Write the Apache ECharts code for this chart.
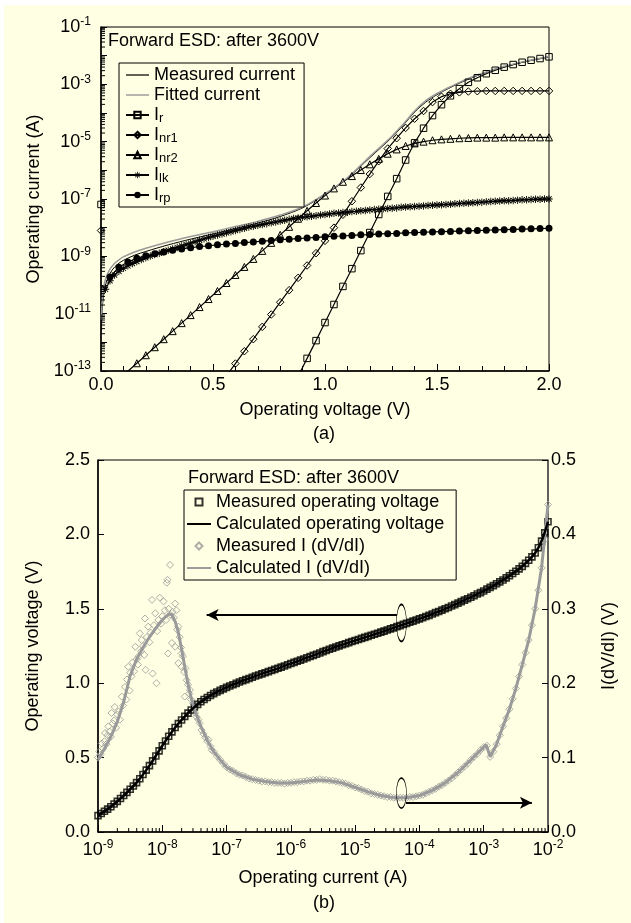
<!DOCTYPE html>
<html>
<head>
<meta charset="utf-8">
<script src="https://cdn.jsdelivr.net/npm/echarts@6/dist/echarts.min.js"></script>
<style>
  html, body { margin: 0; padding: 0; background: #fff; }
  #paper { position: absolute; left: 4px; top: 5px; width: 627px; height: 918px; background: #ffffe3; }
  #chart { position: absolute; left: 0; top: 0; width: 631px; height: 923px; }
</style>
</head>
<body>
<div id="paper"></div>
<div id="chart"></div>
<script>
// ---------- (a) current components vs voltage, values are log10(I) ----------
const voltage = [0, 0.04, 0.08, 0.12, 0.16, 0.2, 0.24, 0.28, 0.32, 0.36, 0.4, 0.44, 0.48, 0.52, 0.56, 0.6, 0.64, 0.68, 0.72, 0.76,
  0.8, 0.84, 0.88, 0.92, 0.96, 1, 1.04, 1.08, 1.12, 1.16, 1.2, 1.24, 1.28, 1.32, 1.36, 1.4, 1.44, 1.48, 1.52, 1.56,
  1.6, 1.64, 1.68, 1.72, 1.76, 1.8, 1.84, 1.88, 1.92, 1.96, 2];

const voltageFine = [0.02, 0.04, 0.06, 0.08, 0.1, 0.12, 0.14, 0.16, 0.18, 0.2, 0.22, 0.24, 0.26, 0.28, 0.3, 0.32, 0.34, 0.36, 0.38, 0.4,
  0.42, 0.44, 0.46, 0.48, 0.5, 0.52, 0.54, 0.56, 0.58, 0.6, 0.62, 0.64, 0.66, 0.68, 0.7, 0.72, 0.74, 0.76, 0.78, 0.8,
  0.82, 0.84, 0.86, 0.88, 0.9, 0.92, 0.94, 0.96, 0.98, 1, 1.02, 1.04, 1.06, 1.08, 1.1, 1.12, 1.14, 1.16, 1.18, 1.2,
  1.22, 1.24, 1.26, 1.28, 1.3, 1.32, 1.34, 1.36, 1.38, 1.4, 1.42, 1.44, 1.46, 1.48, 1.5, 1.52, 1.54, 1.56, 1.58, 1.6,
  1.62, 1.64, 1.66, 1.68, 1.7, 1.72, 1.74, 1.76, 1.78, 1.8, 1.82, 1.84, 1.86, 1.88, 1.9, 1.92, 1.94, 1.96, 1.98, 2];

const irLog = [-7.19, null, null, null, null, null, null, null, null, null, null, null, null, null, null, null, null, null, null, null,
  null, null, -13.19, -12.56, -11.94, -11.31, -10.68, -10.05, -9.43, -8.80, -8.17, -7.54, -6.91, -6.29, -5.64, -5.04, -4.53, -4.09, -3.71, -3.40,
  -3.15, -2.93, -2.77, -2.63, -2.51, -2.40, -2.31, -2.23, -2.16, -2.10, -2.04];

const inr1Log = [-8.10, null, null, null, null, null, null, null, null, null, null, null, null, null, -13.17, -12.74, -12.31, -11.89, -11.46, -11.03,
  -10.60, -10.18, -9.75, -9.32, -8.89, -8.46, -8.00, -7.55, -7.08, -6.60, -6.13, -5.68, -5.24, -4.88, -4.52, -4.20, -3.93, -3.62, -3.43, -3.33,
  -3.28, -3.25, -3.24, -3.23, -3.23, -3.23, -3.23, -3.23, -3.23, -3.23, -3.23];

const inr2Log = [null, null, -13.29, -13.01, -12.73, -12.45, -12.17, -11.89, -11.61, -11.33, -11.05, -10.77, -10.49, -10.21, -9.93, -9.65, -9.37, -9.09, -8.81, -8.53,
  -8.25, -7.97, -7.69, -7.41, -7.14, -6.88, -6.63, -6.40, -6.20, -5.99, -5.79, -5.60, -5.42, -5.27, -5.15, -5.06, -5.00, -4.95, -4.92, -4.90,
  -4.88, -4.87, -4.86, -4.86, -4.86, -4.85, -4.85, -4.85, -4.85, -4.85, -4.85];

const irpLog = [null, -9.72, -9.38, -9.20, -9.07, -8.98, -8.91, -8.85, -8.79, -8.74, -8.70, -8.66, -8.63, -8.60, -8.57, -8.55, -8.52, -8.50, -8.47, -8.45,
  -8.42, -8.40, -8.38, -8.36, -8.34, -8.32, -8.30, -8.29, -8.27, -8.25, -8.24, -8.22, -8.21, -8.20, -8.18, -8.17, -8.16, -8.15, -8.14, -8.13,
  -8.12, -8.11, -8.10, -8.09, -8.08, -8.07, -8.06, -8.05, -8.04, -8.03, -8.02];

const ilkLog = [-10.15, -9.85, -9.65, -9.52, -9.42, -9.33, -9.25, -9.18, -9.11, -9.05, -8.99, -8.94, -8.89, -8.84, -8.79, -8.74, -8.69, -8.64, -8.59, -8.54,
  -8.49, -8.44, -8.39, -8.34, -8.30, -8.26, -8.22, -8.18, -8.14, -8.10, -8.06, -8.02, -7.98, -7.95, -7.92, -7.89, -7.86, -7.83, -7.80, -7.77,
  -7.74, -7.71, -7.68, -7.66, -7.64, -7.62, -7.60, -7.58, -7.56, -7.54, -7.52, -7.50, -7.49, -7.47, -7.46, -7.44, -7.43, -7.41, -7.40, -7.38,
  -7.37, -7.36, -7.34, -7.33, -7.32, -7.31, -7.29, -7.28, -7.27, -7.26, -7.25, -7.24, -7.23, -7.22, -7.21, -7.20, -7.19, -7.18, -7.17, -7.16,
  -7.15, -7.14, -7.13, -7.12, -7.11, -7.10, -7.09, -7.08, -7.07, -7.06, -7.06, -7.05, -7.04, -7.03, -7.03, -7.02, -7.01, -7.01, -7.00, -7.00];

// [V, log10(I)]
const measuredCurrent = [[0.002, -11.6], [0.005, -10.9], [0.01, -10.45], [0.02, -10.0], [0.04, -9.6], [0.06, -9.38], [0.08, -9.24], [0.1, -9.14],
  [0.15, -8.96], [0.2, -8.83], [0.3, -8.6], [0.4, -8.4], [0.5, -8.22], [0.6, -8.03], [0.7, -7.84], [0.8, -7.61], [0.9, -7.31], [1.0, -6.84],
  [1.1, -6.28], [1.2, -5.56], [1.3, -4.84], [1.35, -4.42], [1.4, -3.97], [1.45, -3.62], [1.5, -3.36], [1.55, -3.15], [1.6, -2.96], [1.65, -2.79],
  [1.7, -2.64], [1.8, -2.39], [1.9, -2.2], [2.0, -2.05]];

const fittedCurrent = [[0.002, -11.2], [0.005, -10.6], [0.01, -10.2], [0.02, -9.8], [0.04, -9.45], [0.06, -9.25], [0.08, -9.12], [0.1, -9.02],
  [0.15, -8.85], [0.2, -8.72], [0.3, -8.5], [0.4, -8.31], [0.5, -8.14], [0.6, -7.96], [0.7, -7.78], [0.8, -7.56], [0.9, -7.28], [1.0, -6.82],
  [1.1, -6.26], [1.2, -5.52], [1.3, -4.8], [1.35, -4.38], [1.4, -3.93], [1.45, -3.57], [1.5, -3.32], [1.55, -3.12], [1.6, -2.93], [1.65, -2.76],
  [1.7, -2.62], [1.8, -2.37], [1.9, -2.19], [2.0, -2.04]];

// tick exponents of the current axis in (a)
const currentTickExp = [-13, -12, -11, -10, -9, -8, -7, -6, -5, -4, -3, -2, -1];
const currentLabelExp = [-13, -11, -9, -7, -5, -3, -1];

// ---------- (b) voltage and I(dV/dI) vs current, current as log10(I) ----------
const sweepLogI = [-9, -8.95, -8.9, -8.85, -8.8, -8.75, -8.7, -8.65, -8.6, -8.55, -8.5, -8.45, -8.4, -8.35, -8.3, -8.25, -8.2, -8.15, -8.1, -8.05,
  -8, -7.95, -7.9, -7.85, -7.8, -7.75, -7.7, -7.65, -7.6, -7.55, -7.5, -7.45, -7.4, -7.35, -7.3, -7.25, -7.2, -7.15, -7.1, -7.05,
  -7, -6.95, -6.9, -6.85, -6.8, -6.75, -6.7, -6.65, -6.6, -6.55, -6.5, -6.45, -6.4, -6.35, -6.3, -6.25, -6.2, -6.15, -6.1, -6.05,
  -6, -5.95, -5.9, -5.85, -5.8, -5.75, -5.7, -5.65, -5.6, -5.55, -5.5, -5.45, -5.4, -5.35, -5.3, -5.25, -5.2, -5.15, -5.1, -5.05,
  -5, -4.95, -4.9, -4.85, -4.8, -4.75, -4.7, -4.65, -4.6, -4.55, -4.5, -4.45, -4.4, -4.35, -4.3, -4.25, -4.2, -4.15, -4.1, -4.05,
  -4, -3.95, -3.9, -3.85, -3.8, -3.75, -3.7, -3.65, -3.6, -3.55, -3.5, -3.45, -3.4, -3.35, -3.3, -3.25, -3.2, -3.15, -3.1, -3.05,
  -3, -2.95, -2.9, -2.85, -2.8, -2.75, -2.7, -2.65, -2.6, -2.55, -2.5, -2.45, -2.4, -2.35, -2.3, -2.25, -2.2, -2.15, -2.1, -2.05,
  -2];

const measVoltage = [0.110, 0.124, 0.139, 0.154, 0.170, 0.188, 0.206, 0.225, 0.245, 0.266, 0.287, 0.309, 0.332, 0.358, 0.386, 0.416, 0.446, 0.478, 0.511, 0.545,
  0.580, 0.612, 0.643, 0.673, 0.702, 0.728, 0.753, 0.777, 0.799, 0.820, 0.840, 0.858, 0.875, 0.890, 0.904, 0.917, 0.930, 0.941, 0.952, 0.962,
  0.972, 0.981, 0.990, 0.999, 1.008, 1.016, 1.024, 1.032, 1.040, 1.048, 1.055, 1.063, 1.070, 1.078, 1.085, 1.093, 1.100, 1.108, 1.116, 1.124,
  1.132, 1.140, 1.148, 1.155, 1.163, 1.171, 1.179, 1.187, 1.195, 1.203, 1.212, 1.220, 1.228, 1.236, 1.243, 1.251, 1.258, 1.265, 1.273, 1.280,
  1.287, 1.294, 1.301, 1.308, 1.315, 1.322, 1.329, 1.336, 1.343, 1.350, 1.358, 1.365, 1.372, 1.380, 1.387, 1.395, 1.402, 1.410, 1.417, 1.425,
  1.432, 1.440, 1.448, 1.456, 1.465, 1.474, 1.482, 1.491, 1.500, 1.509, 1.519, 1.528, 1.538, 1.548, 1.558, 1.568, 1.578, 1.588, 1.599, 1.609,
  1.620, 1.632, 1.644, 1.656, 1.668, 1.681, 1.694, 1.708, 1.722, 1.737, 1.752, 1.768, 1.785, 1.805, 1.826, 1.849, 1.875, 1.910, 1.955, 2.010,
  2.085];

// [log10(I), V]
const calcVoltage = [[-9.0, 0.11], [-8.8, 0.17], [-8.6, 0.245], [-8.4, 0.332], [-8.2, 0.446], [-8.0, 0.58], [-7.8, 0.702], [-7.6, 0.799],
  [-7.4, 0.875], [-7.2, 0.93], [-7.0, 0.972], [-6.8, 1.008], [-6.6, 1.04], [-6.4, 1.07], [-6.2, 1.1], [-6.0, 1.132], [-5.8, 1.163],
  [-5.6, 1.195], [-5.4, 1.228], [-5.2, 1.258], [-5.0, 1.287], [-4.8, 1.315], [-4.6, 1.343], [-4.4, 1.372], [-4.2, 1.402], [-4.0, 1.432],
  [-3.8, 1.465], [-3.6, 1.5], [-3.4, 1.538], [-3.2, 1.578], [-3.0, 1.62], [-2.8, 1.668], [-2.6, 1.722], [-2.4, 1.785], [-2.2, 1.875],
  [-2.1, 1.955], [-2.0, 2.085]];

// scattered measured I(dV/dI) below 10^-7.2 A, [log10(I), value]
const measDvdiLow = [[-9.00, 0.100], [-8.98, 0.108], [-8.96, 0.104], [-8.94, 0.119], [-8.92, 0.112], [-8.90, 0.122], [-8.89, 0.133], [-8.87, 0.118],
  [-8.85, 0.130], [-8.84, 0.142], [-8.82, 0.135], [-8.80, 0.128], [-8.79, 0.160], [-8.77, 0.146], [-8.75, 0.150], [-8.74, 0.168], [-8.72, 0.140],
  [-8.70, 0.158], [-8.68, 0.162], [-8.66, 0.151], [-8.63, 0.182], [-8.61, 0.170], [-8.58, 0.195], [-8.56, 0.178], [-8.55, 0.205], [-8.53, 0.222],
  [-8.51, 0.190], [-8.50, 0.214], [-8.48, 0.209], [-8.46, 0.228], [-8.44, 0.216], [-8.42, 0.249], [-8.40, 0.232], [-8.38, 0.225], [-8.37, 0.236],
  [-8.35, 0.267], [-8.33, 0.243], [-8.32, 0.258], [-8.30, 0.250], [-8.28, 0.238], [-8.27, 0.287], [-8.26, 0.218], [-8.24, 0.262], [-8.22, 0.276],
  [-8.20, 0.255], [-8.18, 0.268], [-8.16, 0.312], [-8.15, 0.213], [-8.13, 0.278], [-8.11, 0.294], [-8.09, 0.200], [-8.08, 0.270], [-8.06, 0.285],
  [-8.04, 0.315], [-8.02, 0.280], [-8.00, 0.290], [-7.98, 0.310], [-7.96, 0.298], [-7.94, 0.285], [-7.93, 0.335], [-7.92, 0.339], [-7.91, 0.240],
  [-7.90, 0.300], [-7.88, 0.359], [-7.87, 0.292], [-7.85, 0.254], [-7.84, 0.296], [-7.82, 0.288], [-7.80, 0.307], [-7.80, 0.249], [-7.78, 0.298],
  [-7.77, 0.272], [-7.75, 0.276], [-7.75, 0.227], [-7.73, 0.262], [-7.71, 0.248], [-7.70, 0.240], [-7.70, 0.222], [-7.68, 0.236], [-7.66, 0.215],
  [-7.65, 0.182], [-7.64, 0.220], [-7.62, 0.204], [-7.60, 0.198], [-7.58, 0.186], [-7.57, 0.191], [-7.55, 0.178], [-7.52, 0.173], [-7.50, 0.166],
  [-7.49, 0.160], [-7.47, 0.155], [-7.44, 0.151], [-7.42, 0.146], [-7.39, 0.137], [-7.36, 0.132], [-7.33, 0.127], [-7.30, 0.122], [-7.28, 0.124],
  [-7.25, 0.115], [-7.23, 0.110]];

// measured I(dV/dI) on the sweep grid from 10^-7.2 A to 10^-2 A
const measDvdiHigh = [0.108, 0.102, 0.097, 0.092, 0.087, 0.084, 0.082, 0.079, 0.077, 0.076, 0.074, 0.072, 0.071, 0.070, 0.069, 0.068, 0.068, 0.067, 0.067, 0.066,
  0.066, 0.066, 0.065, 0.066, 0.066, 0.067, 0.067, 0.068, 0.068, 0.069, 0.069, 0.070, 0.070, 0.071, 0.070, 0.070, 0.069, 0.069, 0.068, 0.067,
  0.066, 0.065, 0.063, 0.062, 0.060, 0.059, 0.057, 0.055, 0.054, 0.052, 0.051, 0.050, 0.049, 0.048, 0.047, 0.047, 0.046, 0.046, 0.046, 0.046,
  0.046, 0.047, 0.047, 0.048, 0.049, 0.050, 0.052, 0.054, 0.056, 0.058, 0.061, 0.063, 0.066, 0.069, 0.072, 0.076, 0.080, 0.084, 0.088, 0.092,
  0.097, 0.101, 0.105, 0.110, 0.114, 0.116, 0.101, 0.108, 0.118, 0.130, 0.142, 0.153, 0.165, 0.179, 0.193, 0.209, 0.225, 0.241, 0.258, 0.278,
  0.300, 0.325, 0.355, 0.393, 0.440];

const calcDvdi = [[-9.0, 0.097], [-8.9, 0.112], [-8.8, 0.128], [-8.7, 0.148], [-8.6, 0.175], [-8.5, 0.21], [-8.4, 0.232], [-8.3, 0.248],
  [-8.2, 0.262], [-8.1, 0.274], [-8.0, 0.285], [-7.9, 0.293], [-7.85, 0.292], [-7.8, 0.283], [-7.75, 0.268], [-7.7, 0.246], [-7.65, 0.222],
  [-7.6, 0.199], [-7.55, 0.18], [-7.5, 0.165], [-7.4, 0.142], [-7.3, 0.123], [-7.2, 0.108], [-7.1, 0.097], [-7.0, 0.087], [-6.8, 0.077],
  [-6.6, 0.071], [-6.4, 0.068], [-6.2, 0.066], [-6.0, 0.066], [-5.8, 0.068], [-5.6, 0.07], [-5.4, 0.069], [-5.2, 0.066], [-5.0, 0.06],
  [-4.8, 0.054], [-4.6, 0.049], [-4.4, 0.046], [-4.2, 0.046], [-4.0, 0.049], [-3.8, 0.056], [-3.6, 0.066], [-3.4, 0.08], [-3.2, 0.097],
  [-3.0, 0.114], [-2.96, 0.117], [-2.9, 0.101], [-2.8, 0.118], [-2.7, 0.142], [-2.6, 0.165], [-2.5, 0.193], [-2.4, 0.225], [-2.3, 0.258],
  [-2.2, 0.3], [-2.1, 0.355], [-2.0, 0.44]];

// annotation marks in (b): [log10(I), value]
const arrowVoltage = [[-4.35, 1.458], [-7.31, 1.458]];
const ringVoltage = [-4.28, 1.405];
const arrowDvdi = [[-4.21, 0.0394], [-2.25, 0.0394]];
const ringDvdi = [-4.28, 0.0524];

// ---------- chart ----------
const FONT = '"Liberation Sans", Arial, Helvetica, sans-serif';
const BG = '#ffffe3';
const GRAY = '#9a9a9a';

const p10 = e => Math.pow(10, e);
const byVoltage = (xs, logs) => xs.map((x, i) => [x, logs[i] == null ? '-' : p10(logs[i])]);
const logYPairs = list => list.map(([x, l]) => [x, p10(l)]);
const logXPairs = list => list.map(([l, y]) => [p10(l), y]);
const hollow = c => ({ color: 'transparent', borderColor: c, borderWidth: 1 });
const STAR = 'path://M-5,-0.6L5,-0.6L5,0.6L-5,0.6Z M-0.6,-5L0.6,-5L0.6,5L-0.6,5Z M-3.11,-3.96L3.96,3.11L3.11,3.96L-3.96,-3.11Z M-3.96,3.11L3.11,-3.96L3.96,-3.11L-3.11,3.96Z';
const LINE_ICON = w => 'path://M0,0L24,0L24,' + w + 'L0,' + w + 'Z';
const SQUARE_ICON = 'path://M0,0L7,0L7,7L0,7Z';
const DIAMOND_ICON = 'path://M4,0L8,4L4,8L0,4Z';

// minor ticks at 2..9 of every decade for the two log axes
const minorTop = [];
for (let e = -13; e < -1; e++) for (let m = 2; m <= 9; m++) minorTop.push(m * p10(e));
const minorBottom = [];
for (let e = -9; e < -2; e++) for (let m = 2; m <= 9; m++) minorBottom.push(m * p10(e));

const powLabel = v => '10{sup|' + Math.round(Math.log10(v)) + '}';
const powRich = { sup: { fontSize: 12, lineHeight: 11, verticalAlign: 'top', color: '#000', fontFamily: FONT } };
const numLabel = d => v => v.toFixed(d);

const axisCommon = {
  axisLine: { onZero: false, lineStyle: { color: '#000', width: 1.5 } },
  axisTick: { inside: true, length: 6, interval: 0, lineStyle: { color: '#000', width: 1 } },
  splitLine: { show: false },
  nameLocation: 'middle',
  nameTextStyle: { fontSize: 18, color: '#000', fontFamily: FONT },
  axisLabel: { fontSize: 18, color: '#000', fontFamily: FONT }
};

const compLine = (name, data, symbol, size, itemStyle) => ({
  name, type: 'line', xAxisIndex: 0, yAxisIndex: 0, data,
  symbol, symbolSize: size, showSymbol: true, itemStyle,
  lineStyle: { color: '#000', width: 1.2 }, emphasis: { disabled: true }
});

const chart = echarts.init(document.getElementById('chart'), null, { renderer: 'canvas' });

const option = {
  animation: false,
  backgroundColor: 'transparent',
  textStyle: { fontFamily: FONT },
  title: [
    { text: 'Forward ESD: after 3600V', left: 108, top: 32, padding: 0, textStyle: { fontSize: 18, fontWeight: 'normal', color: '#000', fontFamily: FONT } },
    { text: '(a)', left: 313, top: 425, padding: 0, textStyle: { fontSize: 18, fontWeight: 'normal', color: '#000', fontFamily: FONT } },
    { text: 'Forward ESD: after 3600V', left: 188, top: 469, padding: 0, textStyle: { fontSize: 18, fontWeight: 'normal', color: '#000', fontFamily: FONT } },
    { text: '(b)', left: 313, top: 894, padding: 0, textStyle: { fontSize: 18, fontWeight: 'normal', color: '#000', fontFamily: FONT } }
  ],
  legend: [
    {
      data: [
        { name: 'Measured current', icon: LINE_ICON(1.3) },
        { name: 'Fitted current', icon: LINE_ICON(1.5) },
        'Ir', 'Inr1', 'Inr2', 'Ilk', 'Irp'
      ],
      orient: 'vertical', left: 119, top: 63, itemWidth: 23, itemHeight: 8, itemGap: 0,
      padding: [2, 9, 2, 6], borderColor: '#000', borderWidth: 1, backgroundColor: BG,
      selectedMode: false,
      formatter: n => (n.length <= 4 ? 'I{sub|' + n.slice(1) + '}' : n),
      textStyle: {
        fontSize: 18, lineHeight: 20, color: '#000', fontFamily: FONT,
        rich: { sub: { fontSize: 13, lineHeight: 9, verticalAlign: 'bottom', color: '#000', fontFamily: FONT } }
      }
    },
    {
      data: [
        { name: 'Measured operating voltage', icon: SQUARE_ICON },
        { name: 'Calculated operating voltage', icon: LINE_ICON(2) },
        { name: 'Measured I (dV/dI)', icon: DIAMOND_ICON },
        { name: 'Calculated I (dV/dI)', icon: LINE_ICON(2) }
      ],
      orient: 'vertical', left: 184, top: 490, itemWidth: 24, itemHeight: 7, itemGap: 2,
      padding: [2, 12, 2, 3], borderColor: '#000', borderWidth: 1, backgroundColor: BG,
      selectedMode: false, symbolKeepAspect: true,
      textStyle: { fontSize: 18, lineHeight: 20, color: '#000', fontFamily: FONT }
    }
  ],
  grid: [
    { left: 101, right: 82, top: 27, bottom: 552, show: true, borderColor: '#000', borderWidth: 1, outerBoundsMode: 'none' },
    { left: 98, right: 83, top: 460, bottom: 91, show: true, borderColor: '#000', borderWidth: 1, outerBoundsMode: 'none' }
  ],
  xAxis: [
    Object.assign({}, axisCommon, {
      type: 'value', gridIndex: 0, min: 0, max: 2, interval: 0.5,
      axisTick: { inside: true, length: 7, lineStyle: { color: '#000' } },
      minorTick: { show: true, splitNumber: 5, length: 5, lineStyle: { color: '#000' } },
      minorSplitLine: { show: false },
      axisLabel: Object.assign({}, axisCommon.axisLabel, { margin: 5, formatter: numLabel(1) }),
      name: 'Operating voltage (V)', nameGap: 30
    }),
    Object.assign({}, axisCommon, {
      type: 'log', logBase: 10, gridIndex: 1, min: 1e-9, max: 1e-2, splitNumber: 7,
      axisTick: { inside: true, length: 7, interval: 0, lineStyle: { color: '#000' } },
      axisLabel: Object.assign({}, axisCommon.axisLabel, { margin: 7, lineHeight: 22, formatter: powLabel, rich: powRich }),
      name: 'Operating current (A)', nameGap: 37
    })
  ],
  yAxis: [
    Object.assign({}, axisCommon, {
      type: 'log', logBase: 10, gridIndex: 0, min: 1e-13, max: 1e-1,
      axisTick: { inside: true, length: 6, customValues: currentTickExp.map(p10), lineStyle: { color: '#000' } },
      axisLabel: Object.assign({}, axisCommon.axisLabel, {
        margin: 10, lineHeight: 22, customValues: currentLabelExp.map(p10), formatter: powLabel, rich: powRich
      }),
      name: 'Operating current (A)', nameGap: 57, nameRotate: 90
    }),
    Object.assign({}, axisCommon, {
      type: 'value', gridIndex: 1, min: 0, max: 2.5, interval: 0.5,
      axisLabel: Object.assign({}, axisCommon.axisLabel, { margin: 8, formatter: numLabel(1) }),
      name: 'Operating voltage (V)', nameGap: 56, nameRotate: 90
    }),
    Object.assign({}, axisCommon, {
      type: 'value', gridIndex: 1, position: 'right', min: 0, max: 0.5, interval: 0.1,
      axisLine: { onZero: false, lineStyle: { color: '#555', width: 1.5 } },
      axisLabel: Object.assign({}, axisCommon.axisLabel, { margin: 3, formatter: numLabel(1) }),
      name: 'I(dV/dI) (V)', nameGap: 52, nameRotate: 90
    })
  ],
  series: [
    // ---- (a)
    compLine('Irp', byVoltage(voltage, irpLog), 'circle', 7, { color: '#000' }),
    compLine('Ilk', byVoltage(voltageFine, ilkLog), STAR, 7.5, { color: '#000' }),
    compLine('Inr2', byVoltage(voltage, inr2Log), 'triangle', 7, hollow('#000')),
    compLine('Inr1', byVoltage(voltage, inr1Log), 'diamond', 7.5, hollow('#000')),
    compLine('Ir', byVoltage(voltage, irLog), 'rect', 6.5, hollow('#000')),
    {
      name: 'Measured current', type: 'line', xAxisIndex: 0, yAxisIndex: 0, data: logYPairs(measuredCurrent),
      symbol: 'none', smooth: 0.3, lineStyle: { color: '#000', width: 1 }, itemStyle: { color: '#000' }
    },
    {
      name: 'Fitted current', type: 'line', xAxisIndex: 0, yAxisIndex: 0, data: logYPairs(fittedCurrent),
      symbol: 'none', smooth: 0.3, lineStyle: { color: GRAY, width: 1.5 }, itemStyle: { color: GRAY }
    },
    {
      type: 'custom', xAxisIndex: 0, yAxisIndex: 0, silent: true, z: 10,
      data: minorTop.map(v => [0, v]),
      renderItem: (params, api) => {
        const p = api.coord([api.value(0), api.value(1)]);
        return { type: 'line', shape: { x1: p[0], y1: p[1], x2: p[0] + 4, y2: p[1] }, style: { stroke: '#000', lineWidth: 1 } };
      }
    },
    // ---- (b)
    {
      name: 'Measured I (dV/dI)', type: 'scatter', xAxisIndex: 1, yAxisIndex: 2,
      data: logXPairs(measDvdiLow).concat(measDvdiHigh.map((v, i) => [p10(sweepLogI[i + 36]), v])),
      symbol: 'diamond', symbolSize: 7, itemStyle: hollow(GRAY)
    },
    {
      name: 'Calculated I (dV/dI)', type: 'line', xAxisIndex: 1, yAxisIndex: 2, data: logXPairs(calcDvdi),
      symbol: 'none', lineStyle: { color: GRAY, width: 3 }, itemStyle: { color: GRAY },
      markLine: {
        silent: true, symbol: ['none', 'arrow'], symbolSize: [9, 12], label: { show: false },
        lineStyle: { color: '#000', width: 2, type: 'solid' },
        data: [[{ coord: [p10(arrowDvdi[0][0]), arrowDvdi[0][1]] }, { coord: [p10(arrowDvdi[1][0]), arrowDvdi[1][1]] }]]
      },
      markPoint: {
        silent: true, symbol: 'circle', symbolSize: [10, 30], label: { show: false },
        itemStyle: { color: 'transparent', borderColor: '#000', borderWidth: 1 },
        data: [{ coord: [p10(ringDvdi[0]), ringDvdi[1]] }]
      }
    },
    {
      name: 'Measured operating voltage', type: 'scatter', xAxisIndex: 1, yAxisIndex: 1,
      data: measVoltage.map((v, i) => [p10(sweepLogI[i]), v]),
      symbol: 'rect', symbolSize: 6, itemStyle: { color: 'transparent', borderColor: '#000', borderWidth: 1.6 }
    },
    {
      name: 'Calculated operating voltage', type: 'line', xAxisIndex: 1, yAxisIndex: 1, data: logXPairs(calcVoltage),
      symbol: 'none', smooth: 0.3, lineStyle: { color: '#000', width: 2.5 }, itemStyle: { color: '#000' },
      markLine: {
        silent: true, symbol: ['none', 'arrow'], symbolSize: [9, 12], label: { show: false },
        lineStyle: { color: '#000', width: 2, type: 'solid' },
        data: [[{ coord: [p10(arrowVoltage[0][0]), arrowVoltage[0][1]] }, { coord: [p10(arrowVoltage[1][0]), arrowVoltage[1][1]] }]]
      },
      markPoint: {
        silent: true, symbol: 'circle', symbolSize: [10, 37], label: { show: false },
        itemStyle: { color: 'transparent', borderColor: '#000', borderWidth: 1 },
        data: [{ coord: [p10(ringVoltage[0]), ringVoltage[1]] }]
      }
    },
    {
      type: 'custom', xAxisIndex: 1, yAxisIndex: 1, silent: true, z: 10,
      data: minorBottom.map(v => [v, 0]),
      renderItem: (params, api) => {
        const p = api.coord([api.value(0), api.value(1)]);
        return { type: 'line', shape: { x1: p[0], y1: p[1], x2: p[0], y2: p[1] - 4 }, style: { stroke: '#000', lineWidth: 1 } };
      }
    }
  ]
};

chart.setOption(option);
</script>
</body>
</html>
